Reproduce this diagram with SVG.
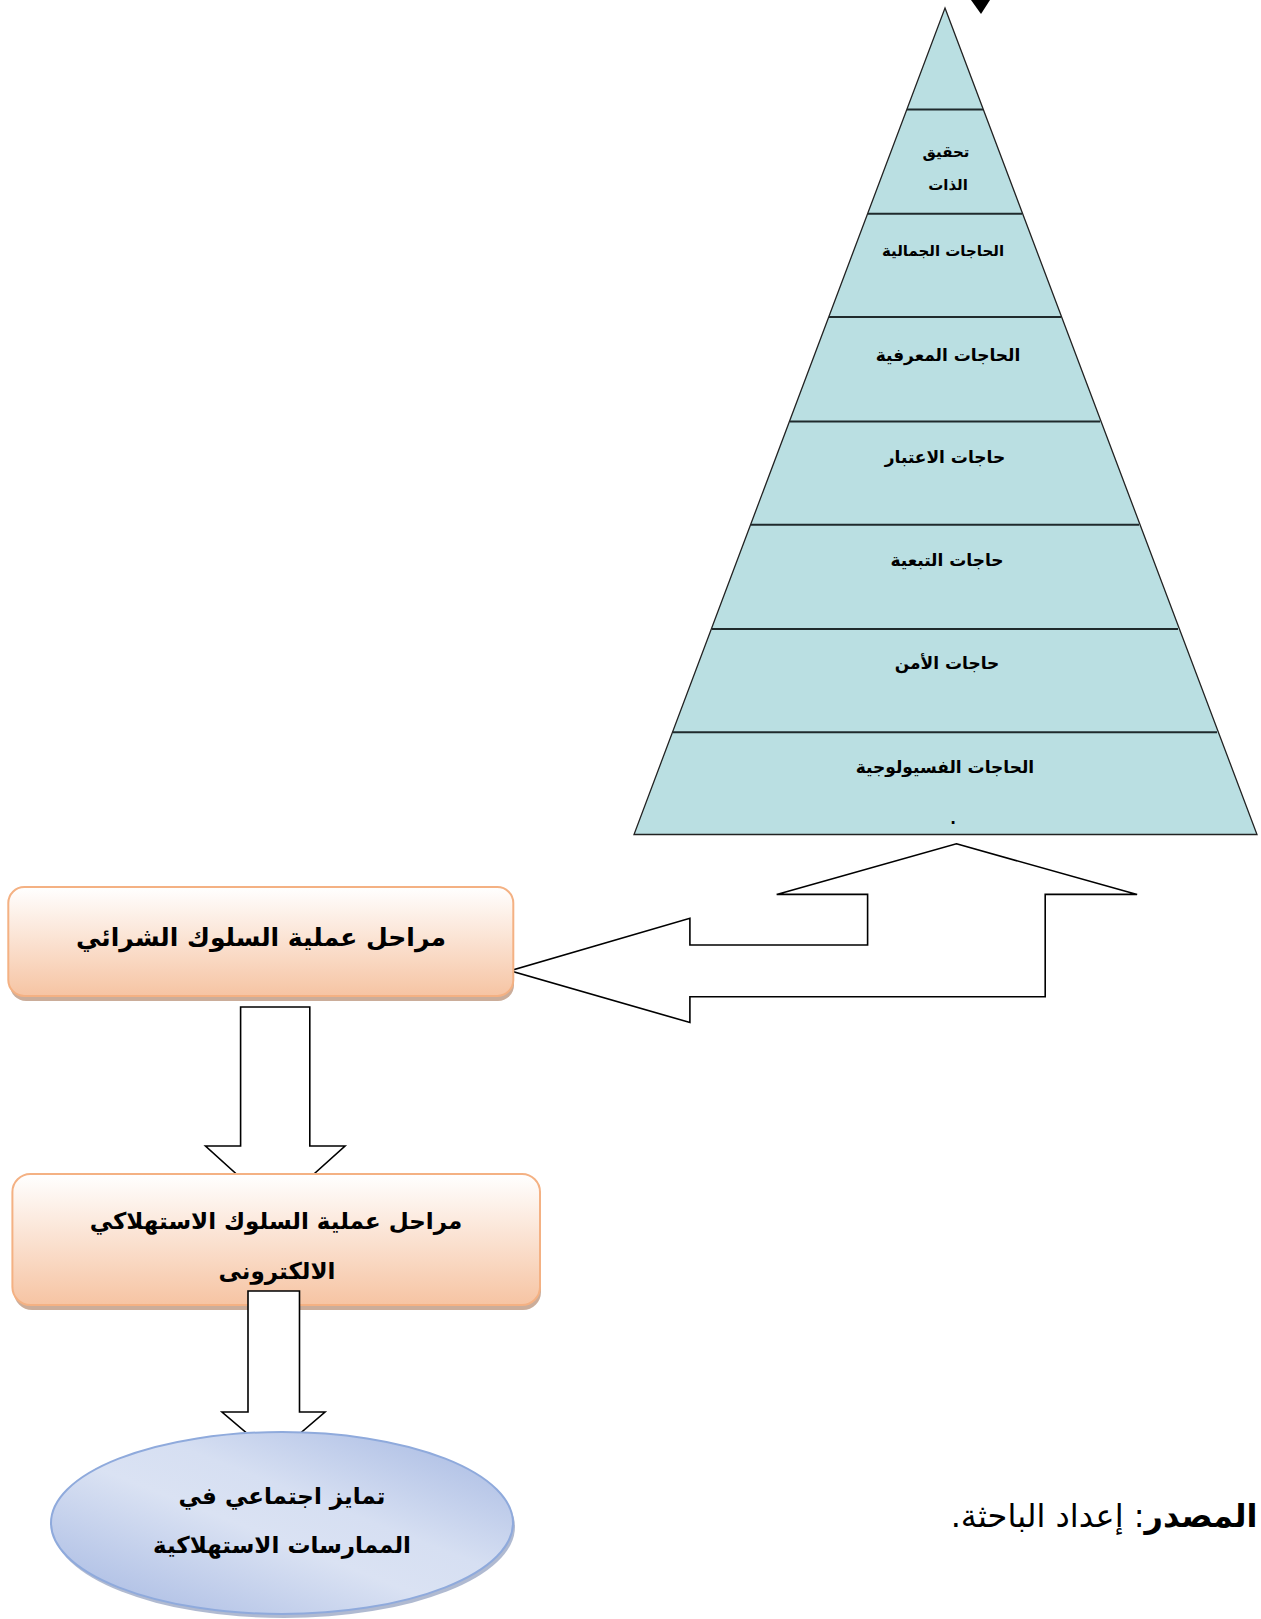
<svg xmlns="http://www.w3.org/2000/svg" width="1261" height="1619" viewBox="0 0 1261 1619">
  <style>
    .lvl { fill: #000; font-family: "DejaVu Sans", "Noto Sans", sans-serif; font-weight: bold; font-size: 17px; text-anchor: middle; direction: rtl; }
    .lvl.sm { font-size: 15px; }
    .big { fill: #000; font-family: "DejaVu Sans", "Noto Sans", sans-serif; font-weight: bold; font-size: 23px; text-anchor: middle; direction: rtl; }
    .big.xl { font-size: 25px; }
    .blk { fill: #fff; stroke: #000; stroke-width: 1.6; stroke-linejoin: miter; }
    .sep { stroke: #1f2a2c; stroke-width: 2; }
  </style>
  <defs>
    <linearGradient id="peach" x1="0" y1="0" x2="0" y2="1">
      <stop offset="0" stop-color="#FFFFFF"/>
      <stop offset="1" stop-color="#F6C4A3"/>
    </linearGradient>
    <linearGradient id="lav" x1="0" y1="1" x2="1" y2="0">
      <stop offset="0" stop-color="#A3B6E1"/>
      <stop offset="0.45" stop-color="#DAE2F3"/>
      <stop offset="0.6" stop-color="#D6DFF2"/>
      <stop offset="1" stop-color="#A3B6E1"/>
    </linearGradient>
  </defs>

  <!-- needs pyramid -->
  <g id="pyramid">
    <polygon points="945,8 1257,834.5 634,834.5" fill="#BADFE2" stroke="#222" stroke-width="1.3"/>
    <line class="sep" x1="907" y1="109.5" x2="983" y2="109.5"/>
    <line class="sep" x1="868" y1="213.8" x2="1022" y2="213.8"/>
    <line class="sep" x1="829" y1="317" x2="1061" y2="317"/>
    <line class="sep" x1="790" y1="421.4" x2="1100" y2="421.4"/>
    <line class="sep" x1="751" y1="524.7" x2="1139" y2="524.7"/>
    <line class="sep" x1="712" y1="629" x2="1178" y2="629"/>
    <line class="sep" x1="673" y1="732.3" x2="1217" y2="732.3"/>
    <text class="lvl sm" x="946" y="157">تحقيق</text>
    <text class="lvl sm" x="948" y="190">الذات</text>
    <text class="lvl sm" x="943" y="256">الحاجات الجمالية</text>
    <text class="lvl" x="948" y="361">الحاجات المعرفية</text>
    <text class="lvl" x="945" y="463">حاجات الاعتبار</text>
    <text class="lvl" x="947" y="566">حاجات التبعية</text>
    <text class="lvl" x="947" y="669">حاجات الأمن</text>
    <text class="lvl" x="945" y="773">الحاجات الفسيولوجية</text>
    <text class="lvl sm" x="953" y="824">.</text>
  </g>

  <!-- arrowhead cut off at the top edge -->
  <polygon points="971,0 990,0 981,14" fill="#000"/>

  <!-- connectors -->
  <g id="connectors">
    <polygon class="blk" points="956.4,843.8 1137.1,894.4 1045.2,894.4 1045.2,996.7 689.9,996.7 689.9,1022.5 510.2,970.8 689.9,918.2 689.9,945 867.6,945 867.6,894.4 776.7,894.4"/>
    <polygon class="blk" points="240.6,1007 309.8,1007 309.8,1146 345,1146 275,1209 205.5,1146 240.6,1146"/>
  </g>

  <g id="box-purchase">
    <rect x="10" y="891" width="504" height="110" rx="16" fill="#C29F88" opacity="0.85"/>
    <rect x="8.3" y="887" width="505" height="109" rx="16" fill="url(#peach)" stroke="#F4B183" stroke-width="2"/>
    <text class="big xl" x="261" y="946">مراحل عملية السلوك الشرائي</text>
  </g>

  <g id="box-eshopping">
    <rect x="14" y="1178" width="527" height="132" rx="18" fill="#C29F88" opacity="0.85"/>
    <rect x="12.4" y="1174" width="527.6" height="131" rx="18" fill="url(#peach)" stroke="#F4B183" stroke-width="2"/>
    <text class="big" x="276" y="1229">مراحل عملية السلوك الاستهلاكي</text>
    <text class="big" x="277" y="1279">الالكترونى</text>
  </g>

  <g id="connector-2">
    <polygon class="blk" points="248,1291 299.5,1291 299.5,1412 325,1412 273.7,1456 222,1412 248,1412"/>
  </g>

  <g id="ellipse-distinction">
    <ellipse cx="284" cy="1527" rx="231" ry="91" fill="#8E9DBD" opacity="0.7"/>
    <ellipse cx="282" cy="1523" rx="231" ry="91" fill="url(#lav)" stroke="#8FAADC" stroke-width="2"/>
    <text class="big" x="282" y="1504">تمايز اجتماعي في</text>
    <text class="big" x="282" y="1553">الممارسات الاستهلاكية</text>
  </g>

  <text x="1104" y="1527" font-family="'DejaVu Sans', sans-serif" font-size="32" text-anchor="middle" direction="rtl"><tspan font-weight="bold">المصدر</tspan>: إعداد الباحثة.</text>
</svg>
